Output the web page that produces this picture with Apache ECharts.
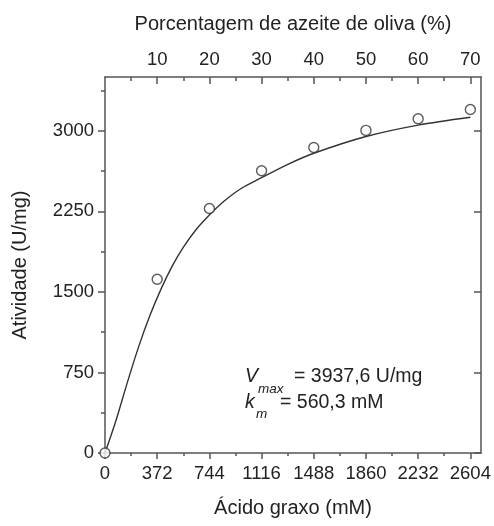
<!DOCTYPE html>
<html>
<head>
<meta charset="utf-8">
<script src="https://cdn.jsdelivr.net/npm/echarts@6/dist/echarts.min.js"></script>
<style>html,body{margin:0;padding:0;background:#fff}#c{width:494px;height:526px}</style>
</head>
<body>
<div id="c"></div>
<script>
// ---- data ----
const xTicks = [0, 372, 744, 1116, 1488, 1860, 2232, 2604];
const xMinorTicks = [186, 558, 930, 1302, 1674, 2046, 2418];
const topTicks = [10, 20, 30, 40, 50, 60, 70];
const topMinorTicks = [5, 15, 25, 35, 45, 55, 65];
const yTicks = [0, 750, 1500, 2250, 3000];
const yMinorTicks = [375, 1125, 1875, 2625, 3375];

const acidMM = [0, 372, 744, 1116, 1488, 1860, 2232, 2604];
const activity = [0, 1618, 2276, 2627, 2844, 3003, 3112, 3198];

const fitMM = [0, 80, 160, 240, 320, 400, 480, 560, 650, 744, 850, 970, 1116, 1300, 1488, 1860, 2232, 2604];
const fitActivity = [0, 310, 660, 990, 1280, 1528, 1742, 1918, 2080, 2215, 2345, 2462, 2563, 2685, 2790, 2946, 3052, 3125];

const xMin = 0, xMax = 2680;
const yMin = 0, yMax = 3500;
const mmPerPercent = 37.2;

// ---- chart ----
const FONT = '"Liberation Sans", Arial, Helvetica, sans-serif';
const TXT = '#222';
const AX = '#555';
const chart = echarts.init(document.getElementById('c'), null, {renderer: 'canvas'});

const scatterData = acidMM.map((x, i) => [x, activity[i]]);
const fitData = fitMM.map((x, i) => [x, fitActivity[i]]);
const plain = v => String(v);

chart.setOption({
  animation: false,
  backgroundColor: '#fff',
  grid: {left: 105, right: 13, top: 77, bottom: 73, containLabel: false},
  xAxis: [
    { // bottom main
      type: 'value', position: 'bottom', min: xMin, max: xMax, interval: 372,
      name: 'Ácido graxo (mM)', nameLocation: 'middle', nameGap: 45,
      nameTextStyle: {fontFamily: FONT, fontSize: 20, color: TXT},
      axisLine: {show: true, onZero: false, lineStyle: {color: AX, width: 1.5}},
      axisTick: {show: true, inside: false, length: 6, customValues: xTicks, lineStyle: {color: AX, width: 1.5}},
      axisLabel: {show: true, margin: 11, customValues: xTicks, formatter: plain, fontFamily: FONT, fontSize: 18.5, color: TXT},
      splitLine: {show: false}
    },
    { // bottom minor
      type: 'value', position: 'bottom', min: xMin, max: xMax, interval: 186,
      axisLine: {show: false, onZero: false},
      axisTick: {show: true, inside: false, length: 3, customValues: xMinorTicks, lineStyle: {color: AX, width: 1.5}},
      axisLabel: {show: false},
      splitLine: {show: false}
    },
    { // top main (percentage)
      type: 'value', position: 'top', min: 0, max: xMax / mmPerPercent, interval: 10,
      name: 'Porcentagem de azeite de oliva (%)', nameLocation: 'middle', nameGap: 43,
      nameTextStyle: {fontFamily: FONT, fontSize: 20, color: TXT},
      axisLine: {show: true, onZero: false, lineStyle: {color: AX, width: 1.5}},
      axisTick: {show: true, inside: true, length: 7, customValues: topTicks, lineStyle: {color: AX, width: 1.5}},
      axisLabel: {show: true, margin: 8, customValues: topTicks, formatter: plain, fontFamily: FONT, fontSize: 18.5, color: TXT},
      splitLine: {show: false}
    },
    { // top minor
      type: 'value', position: 'top', min: 0, max: xMax / mmPerPercent, interval: 5,
      axisLine: {show: false, onZero: false},
      axisTick: {show: true, inside: true, length: 4, customValues: topMinorTicks, lineStyle: {color: AX, width: 1.5}},
      axisLabel: {show: false},
      splitLine: {show: false}
    }
  ],
  yAxis: [
    { // left main
      type: 'value', position: 'left', min: yMin, max: yMax, interval: 750,
      name: 'Atividade (U/mg)', nameLocation: 'middle', nameGap: 75, nameRotate: 90,
      nameTextStyle: {fontFamily: FONT, fontSize: 20, color: TXT},
      axisLine: {show: true, onZero: false, lineStyle: {color: AX, width: 1.5}},
      axisTick: {show: true, inside: false, length: 7, customValues: yTicks, lineStyle: {color: AX, width: 1.5}},
      axisLabel: {show: true, margin: 11, customValues: yTicks, formatter: plain, fontFamily: FONT, fontSize: 18.5, color: TXT},
      splitLine: {show: false}
    },
    { // right
      type: 'value', position: 'right', min: yMin, max: yMax, interval: 750,
      axisLine: {show: true, onZero: false, lineStyle: {color: AX, width: 1.5}},
      axisTick: {show: true, inside: true, length: 7, customValues: yTicks, lineStyle: {color: AX, width: 1.5}},
      axisLabel: {show: false},
      splitLine: {show: false}
    },
    { // left minor
      type: 'value', position: 'left', min: yMin, max: yMax, interval: 375,
      axisLine: {show: false, onZero: false},
      axisTick: {show: true, inside: false, length: 4, customValues: yMinorTicks, lineStyle: {color: AX, width: 1.5}},
      axisLabel: {show: false},
      splitLine: {show: false}
    }
  ],
  series: [
    {
      type: 'line', xAxisIndex: 0, yAxisIndex: 0, data: fitData,
      smooth: 0.3, showSymbol: false, symbol: 'none',
      lineStyle: {color: '#333', width: 1.4}, z: 2
    },
    {
      type: 'scatter', xAxisIndex: 0, yAxisIndex: 0, data: scatterData,
      symbol: 'circle', symbolSize: 10, clip: false,
      itemStyle: {color: '#fff', borderColor: '#333', borderWidth: 1.4}, z: 3
    }
  ],
  graphic: [
    {type: 'text', left: 245, top: 367, style: {text: 'V', font: 'italic 19.5px ' + FONT, fill: TXT}},
    {type: 'text', left: 258, top: 382, style: {text: 'max', font: 'italic 13.5px ' + FONT, fill: TXT}},
    {type: 'text', left: 294, top: 367, style: {text: '= 3937,6 U/mg', font: '19.5px ' + FONT, fill: TXT}},
    {type: 'text', left: 245, top: 393, style: {text: 'k', font: 'italic 19.5px ' + FONT, fill: TXT}},
    {type: 'text', left: 256, top: 407, style: {text: 'm', font: 'italic 13.5px ' + FONT, fill: TXT}},
    {type: 'text', left: 280, top: 393, style: {text: '= 560,3 mM', font: '19.5px ' + FONT, fill: TXT}}
  ]
});
</script>
</body>
</html>
